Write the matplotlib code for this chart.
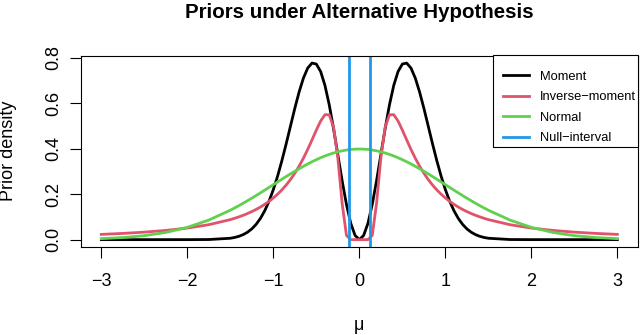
import matplotlib
matplotlib.use("Agg")
import matplotlib.pyplot as plt
from matplotlib.patches import Rectangle

plt.rcParams['font.family'] = ['Liberation Sans', 'DejaVu Sans']

# grid of mu values
mu = [-3.0, -2.75, -2.5, -2.25, -2.0, -1.75,
      -1.5, -1.45, -1.4, -1.35, -1.3, -1.25, -1.2, -1.15, -1.1, -1.05,
      -1.0, -0.95, -0.9, -0.85, -0.8, -0.75, -0.7, -0.65, -0.6, -0.55,
      -0.5, -0.45, -0.4, -0.35, -0.3, -0.25, -0.2, -0.15, -0.1, -0.05,
      0.0,
      0.05, 0.1, 0.15, 0.2, 0.25, 0.3, 0.35, 0.4, 0.45, 0.5,
      0.55, 0.6, 0.65, 0.7, 0.75, 0.8, 0.85, 0.9, 0.95, 1.0,
      1.05, 1.1, 1.15, 1.2, 1.25, 1.3, 1.35, 1.4, 1.45, 1.5,
      1.75, 2.0, 2.25, 2.5, 2.75, 3.0]

moment = [0.0, 0.0, 0.0, 0.0, 0.00002, 0.00047,
          0.00608, 0.00955, 0.01470, 0.02218, 0.03280, 0.04752, 0.06742, 0.09366, 0.12733, 0.16942,
          0.22044, 0.28045, 0.34865, 0.42311, 0.50115, 0.57869, 0.65063, 0.71158, 0.75557, 0.77733,
          0.77293, 0.74001, 0.67905, 0.59327, 0.48877, 0.37393, 0.25904, 0.15497, 0.07198, 0.01848,
          0.0,
          0.01848, 0.07198, 0.15497, 0.25904, 0.37393, 0.48877, 0.59327, 0.67905, 0.74001, 0.77293,
          0.77733, 0.75557, 0.71158, 0.65063, 0.57869, 0.50115, 0.42311, 0.34865, 0.28045, 0.22044,
          0.16942, 0.12733, 0.09366, 0.06742, 0.04752, 0.03280, 0.02218, 0.01470, 0.00955, 0.00608,
          0.00047, 0.00002, 0.0, 0.0, 0.0, 0.0]

inverse_moment = [0.02309, 0.02740, 0.03303, 0.04056, 0.05096, 0.06585,
                  0.08816, 0.09393, 0.10028, 0.10727, 0.11498, 0.12352, 0.13302, 0.14359, 0.15540, 0.16864,
                  0.18352, 0.20030, 0.21925, 0.24071, 0.26503, 0.29260, 0.32375, 0.35873, 0.39748, 0.43930,
                  0.48233, 0.52216, 0.54999, 0.54955, 0.49508, 0.35958, 0.15937, 0.01861, 0.00002, 0.0,
                  0.0,
                  0.0, 0.00002, 0.01861, 0.15937, 0.35958, 0.49508, 0.54955, 0.54999, 0.52216, 0.48233,
                  0.43930, 0.39748, 0.35873, 0.32375, 0.29260, 0.26503, 0.24071, 0.21925, 0.20030, 0.18352,
                  0.16864, 0.15540, 0.14359, 0.13302, 0.12352, 0.11498, 0.10727, 0.10028, 0.09393, 0.08816,
                  0.06585, 0.05096, 0.04056, 0.03303, 0.02740, 0.02309]

normal = [0.0044, 0.0091, 0.0175, 0.0317, 0.0540, 0.0863,
          0.1295, 0.1394, 0.1497, 0.1604, 0.1714, 0.1826, 0.1942, 0.2059, 0.2179, 0.2299,
          0.2420, 0.2541, 0.2661, 0.2780, 0.2897, 0.3011, 0.3123, 0.3230, 0.3332, 0.3429,
          0.3521, 0.3605, 0.3683, 0.3752, 0.3814, 0.3867, 0.3910, 0.3945, 0.3970, 0.3984,
          0.3989,
          0.3984, 0.3970, 0.3945, 0.3910, 0.3867, 0.3814, 0.3752, 0.3683, 0.3605, 0.3521,
          0.3429, 0.3332, 0.3230, 0.3123, 0.3011, 0.2897, 0.2780, 0.2661, 0.2541, 0.2420,
          0.2299, 0.2179, 0.2059, 0.1942, 0.1826, 0.1714, 0.1604, 0.1497, 0.1394, 0.1295,
          0.0863, 0.0540, 0.0317, 0.0175, 0.0091, 0.0044]

null_interval = [-0.12, 0.12]

series_labels = ["Moment", "Inverse\u2212moment", "Normal", "Null\u2212interval"]
series_colors = ["#000000", "#DF536B", "#61D04F", "#2297E6"]

x_ticks = [-3, -2, -1, 0, 1, 2, 3]
y_ticks = [0.0, 0.2, 0.4, 0.6, 0.8]
y_tick_labels = ["0.0", "0.2", "0.4", "0.6", "0.8"]

W, H = 640, 335
fig = plt.figure(figsize=(W / 100, H / 100), dpi=100)
L, R, T, B = 80.7, 638.0, 56.0, 246.7
ax = fig.add_axes([L / W, 1 - B / H, (R - L) / W, (B - T) / H])

lw = 2.0
ax.plot(mu, moment, color=series_colors[0], lw=lw, label=series_labels[0])
ax.plot(mu, inverse_moment, color=series_colors[1], lw=lw, label=series_labels[1])
ax.plot(mu, normal, color=series_colors[2], lw=lw, label=series_labels[2])
for i, v in enumerate(null_interval):
    ax.axvline(v, color=series_colors[3], lw=lw,
               label=series_labels[3] if i == 0 else None)

ymax = max(moment)
ax.set_xlim(-3.24, 3.24)
ax.set_ylim(-0.04 * ymax, 1.04 * ymax)
ax.set_xticks(x_ticks)
ax.set_xticklabels([("\u2212%d" % -t) if t < 0 else "%d" % t for t in x_ticks])
ax.set_yticks(y_ticks)
ax.set_yticklabels(y_tick_labels, rotation=90, va='center')
ax.tick_params(axis='both', direction='out', length=8, width=0.8, labelsize=13)
ax.tick_params(axis='x', pad=11)
ax.tick_params(axis='y', pad=5)
for s in ax.spines.values():
    s.set_linewidth(0.8)

# legend box (R-style: text flush to the right edge)
box = Rectangle((492.7 / W, 1 - 146.7 / H), (R - 492.7) / W, (146.7 - 55.5) / H,
                transform=fig.transFigure, facecolor='white',
                edgecolor='black', linewidth=0.8, zorder=5, clip_on=False)
ax.add_patch(box)
leg = ax.legend(loc='upper left', bbox_to_anchor=(503 / W, 1 - 70.5 / H),
                bbox_transform=fig.transFigure, borderaxespad=0, borderpad=0,
                frameon=False, fontsize=9.3, handlelength=2.0,
                handletextpad=0.85, labelspacing=0.66)
leg.set_zorder(6)

fig.text((L + R) / 2 / W, 1 - 12 / H, "Priors under Alternative Hypothesis",
         ha='center', va='center', fontsize=14.8, fontweight='bold')
fig.text((L + R) / 2 / W, 1 - 325 / H, "\u03bc", ha='center', va='center', fontsize=13)
fig.text(9 / W, 1 - 151 / H, "Prior density", ha='center', va='center',
         fontsize=13, rotation=90)

fig.savefig("out.png", dpi=100)
